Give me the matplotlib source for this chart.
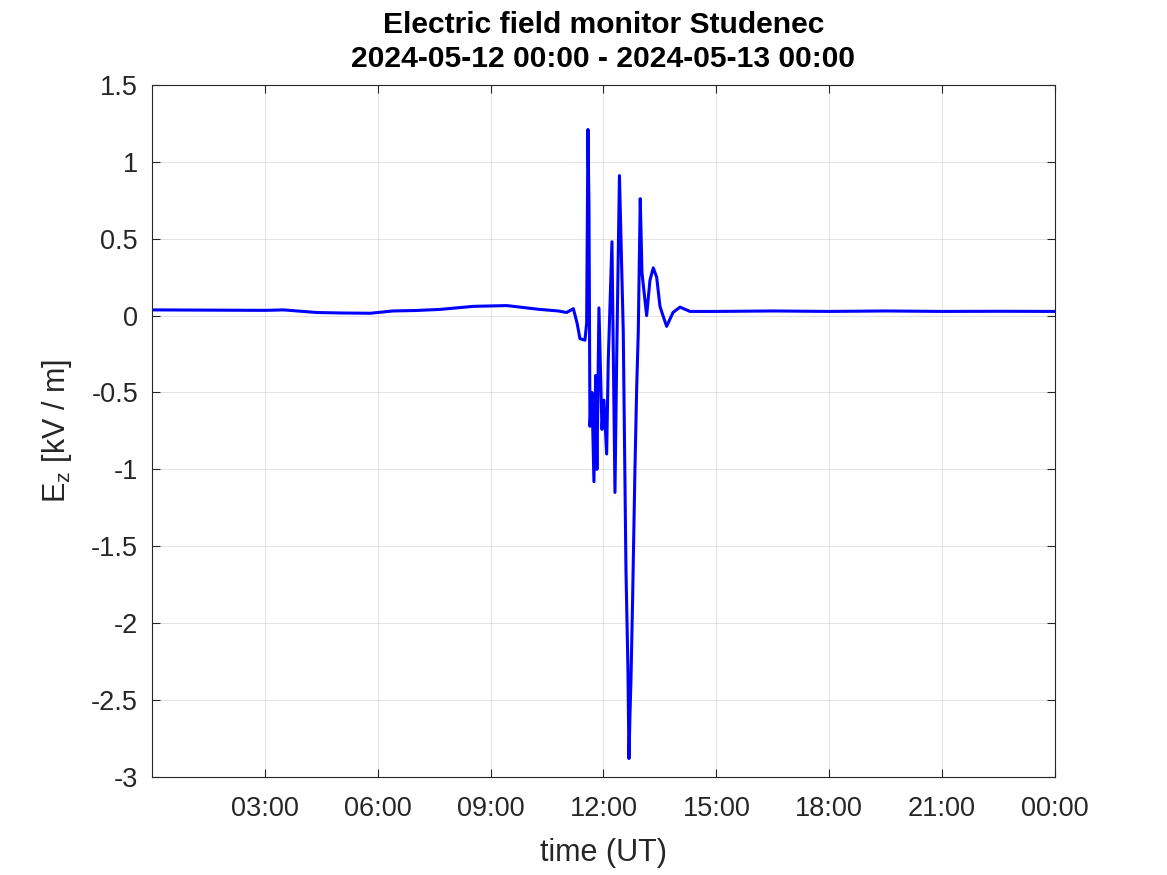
import matplotlib
matplotlib.use("Agg")
import matplotlib.pyplot as plt

plt.rcParams['font.family'] = ['Liberation Sans', 'DejaVu Sans']

# time in hours (UT) since 2024-05-12 00:00, field in kV/m
hours = [0.0, 1.0, 2.0, 3.0, 3.5, 4.38, 5.0, 5.8, 6.4, 7.0, 7.65, 8.54, 9.43, 10.31,
         10.8, 11.02, 11.2, 11.3, 11.375, 11.508, 11.553, 11.588, 11.615, 11.641,
         11.694, 11.747, 11.793, 11.827, 11.88, 11.96, 12.013, 12.085, 12.128,
         12.226, 12.306, 12.351, 12.425, 12.526, 12.598, 12.651, 12.678, 12.704,
         12.731, 12.776, 12.811, 12.837, 12.883, 12.925, 12.978, 13.023, 13.103,
         13.148, 13.236, 13.324, 13.414, 13.502, 13.581, 13.68, 13.847, 14.033,
         14.3, 15.0, 16.5, 18.0, 19.5, 21.0, 22.5, 24.0]
ez = [0.037, 0.036, 0.035, 0.034, 0.037, 0.02, 0.017, 0.015, 0.03, 0.033, 0.04,
      0.06, 0.065, 0.04, 0.03, 0.02, 0.045, -0.05, -0.15, -0.16, -0.05, 1.21,
      0.72, -0.72, -0.5, -1.08, -0.39, -1.0, 0.05, -0.74, -0.55, -0.9, -0.29,
      0.48, -1.15, -0.29, 0.91, -0.1, -1.65, -2.3, -2.88, -2.6, -2.37, -1.83,
      -1.35, -1.0, -0.47, -0.11, 0.76, 0.28, 0.1, 0.0, 0.23, 0.31, 0.25, 0.06,
      0.0, -0.07, 0.02, 0.055, 0.027, 0.027, 0.03, 0.027, 0.03, 0.027, 0.028, 0.027]

xticks = [3, 6, 9, 12, 15, 18, 21, 24]
xticklabels = ['03:00', '06:00', '09:00', '12:00', '15:00', '18:00', '21:00', '00:00']
yticks = [-3, -2.5, -2, -1.5, -1, -0.5, 0, 0.5, 1, 1.5]
yticklabels = ['-3', '-2.5', '-2', '-1.5', '-1', '-0.5', '0', '0.5', '1', '1.5']

fig = plt.figure(figsize=(11.67, 8.75), dpi=100)
ax = fig.add_axes([0.1302, 0.112, 0.7738, 0.791])

ax.plot(hours, ez, color='#0000ff', linewidth=2.2)

ax.set_xlim(0, 24)
ax.set_ylim(-3, 1.5)
ax.set_xticks(xticks)
ax.set_xticklabels(xticklabels)
ax.set_yticks(yticks)
ax.set_yticklabels(yticklabels)
ax.grid(True, color='#262626', alpha=0.15, linewidth=0.6)
ax.tick_params(direction='in', length=6, width=0.8, colors='#262626',
               labelsize=19.5, top=True, right=True, labeltop=False, labelright=False)
ax.tick_params(axis='y', pad=10)
ax.tick_params(axis='x', pad=14)
for s in ax.spines.values():
    s.set_color('#262626')
    s.set_linewidth(0.8)

ax.set_xlabel('time (UT)', fontsize=22, color='#262626', labelpad=11)
ax.set_ylabel(r'E$_\mathregular{z}$ [kV / m]', fontsize=22, color='#262626', labelpad=12)

# two title lines, centred over the axes
ax.text(0.5, 1.0 + 0.0593 / 0.791, 'Electric field monitor Studenec', transform=ax.transAxes,
        fontsize=21.6, fontweight='bold', ha='center', va='baseline')
ax.text(0.5, 1.0 + 0.0204 / 0.791, '2024-05-12 00:00 - 2024-05-13 00:00', transform=ax.transAxes,
        fontsize=21.6, fontweight='bold', ha='center', va='baseline')

fig.savefig('out.png', dpi=100)
